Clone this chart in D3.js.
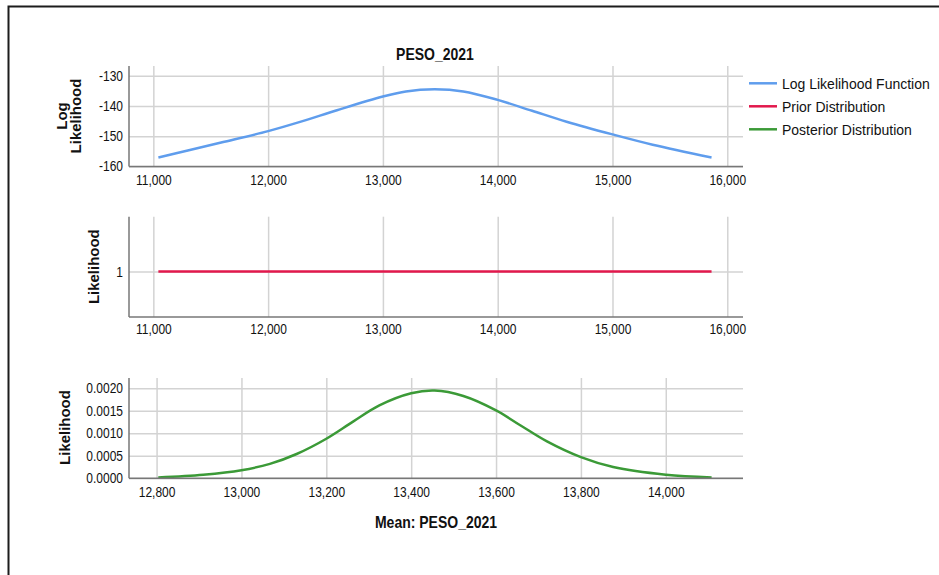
<!DOCTYPE html>
<html>
<head>
<meta charset="utf-8">
<script src="https://cdn.jsdelivr.net/npm/d3@7"></script>
<style>
  body { margin: 0; background: #fff; }
  svg { display: block; font-family: "Liberation Sans", Arial, sans-serif; }
</style>
</head>
<body>
<div id="chart"></div>
<script>
// values
const chartTitle = "PESO_2021";
const xTitle = "Mean: PESO_2021";

// log likelihood (blue)
const llMean = [11044, 11300, 11600, 12000, 12300, 12600, 13000, 13200, 13450, 13700, 14000, 14300, 14600, 15000, 15350, 15863];
const llValue = [-157.0, -154.7, -152.0, -148.3, -145.0, -141.4, -136.9, -135.2, -134.5, -135.2, -138.0, -141.6, -145.2, -149.4, -152.8, -157.0];

// prior (red), flat
const priorMean = [11044, 15863];
const priorValue = [1, 1];

// posterior (green)
const postMean = [12804, 12910, 13000, 13067, 13130, 13200, 13263, 13325, 13400, 13455, 13523, 13600, 13657, 13720, 13800, 13876, 14000, 14108];
const postValue = [0.00002, 0.00008, 0.00018, 0.00032, 0.00054, 0.00088, 0.00126, 0.00162, 0.00189, 0.00195, 0.00183, 0.00151, 0.00118, 0.00082, 0.00047, 0.00025, 0.00008, 0.00002];

const topXTicks = [11000, 12000, 13000, 14000, 15000, 16000];
const llTicks = [-160, -150, -140, -130];
const priorTicks = [1];
const postXTicks = [12800, 13000, 13200, 13400, 13600, 13800, 14000];
const postTicks = [0, 0.0005, 0.001, 0.0015, 0.002];

const seriesNames = ["Log Likelihood Function", "Prior Distribution", "Posterior Distribution"];
const seriesColors = ["#5f9ded", "#e2184c", "#3b9a37"];

const W = 939, H = 575;
const svg = d3.select("#chart").append("svg").attr("width", W).attr("height", H);

// frame
svg.append("rect")
    .attr("x", 8.5).attr("y", 6.5)
    .attr("width", W + 20).attr("height", H + 20)
    .attr("fill", "none").attr("stroke", "#1c1c1c").attr("stroke-width", 2);

const left = 129, right = 743;
const tickStretch = "scale(1,1.15)";   // the screenshot text is a bit taller than wide

// one panel: grid, axes, line
function panel(opts) {
    const x = d3.scaleLinear().domain(opts.xDomain).range([left, right]);
    const y = d3.scaleLinear().domain(opts.yDomain).range([opts.bottom, opts.top]);
    const g = svg.append("g");

    const yAxis = g.append("g")
        .attr("transform", "translate(" + left + ",0)")
        .call(d3.axisLeft(y).tickValues(opts.yTicks).tickFormat(opts.yFormat)
            .tickSize(-(right - left)).tickSizeOuter(0).tickPadding(6));
    yAxis.select(".domain").remove();
    yAxis.selectAll(".tick line").attr("stroke", "#d3d3d3").attr("stroke-width", 1.5);
    yAxis.selectAll(".tick text").attr("fill", "#111").style("font-size", "12px")
        .attr("transform", tickStretch);

    const xAxis = g.append("g")
        .attr("transform", "translate(0," + opts.bottom + ")")
        .call(d3.axisBottom(x).tickValues(opts.xTicks).tickFormat(d3.format(","))
            .tickSize(-(opts.bottom - opts.top)).tickSizeOuter(0).tickPadding(opts.pad));
    xAxis.select(".domain").remove();
    xAxis.selectAll(".tick line").attr("stroke", "#d3d3d3").attr("stroke-width", 1.5);
    xAxis.selectAll(".tick text").attr("fill", "#111").style("font-size", "12px")
        .attr("transform", tickStretch);

    const line = d3.line()
        .x((d, i) => x(opts.xs[i]))
        .y(d => y(d))
        .curve(d3.curveCatmullRom.alpha(0.5));
    g.append("path")
        .datum(opts.ys)
        .attr("d", line)
        .attr("fill", "none")
        .attr("stroke", opts.color)
        .attr("stroke-width", 2.5);

    // axis lines
    g.append("line")
        .attr("x1", left).attr("x2", right)
        .attr("y1", opts.bottom).attr("y2", opts.bottom)
        .attr("stroke", "#777").attr("stroke-width", 1.5);
    g.append("line")
        .attr("x1", left).attr("x2", left)
        .attr("y1", opts.top).attr("y2", opts.bottom)
        .attr("stroke", "#777").attr("stroke-width", 1.5);
}

const intFormat = d => String(d);   // plain hyphen minus like the original

panel({
    xDomain: [10788, 16137], yDomain: [-160, -126.8],
    top: 66, bottom: 166.5, pad: 7.5,
    xTicks: topXTicks, yTicks: llTicks, yFormat: intFormat,
    xs: llMean, ys: llValue, color: seriesColors[0]
});
panel({
    xDomain: [10788, 16137], yDomain: [0, 2.21],
    top: 216.7, bottom: 317, pad: 6.5,
    xTicks: topXTicks, yTicks: priorTicks, yFormat: intFormat,
    xs: priorMean, ys: priorValue, color: seriesColors[1]
});
panel({
    xDomain: [12735, 14182], yDomain: [0, 0.00223],
    top: 378, bottom: 478.3, pad: 7.5,
    xTicks: postXTicks, yTicks: postTicks, yFormat: d3.format(".4f"),
    xs: postMean, ys: postValue, color: seriesColors[2]
});

// titles
svg.append("text")
    .attr("transform", "translate(435,59.5) scale(1,1.2)")
    .attr("text-anchor", "middle")
    .style("font-size", "14px").style("font-weight", "bold").attr("fill", "#111")
    .text(chartTitle);

svg.append("text")
    .attr("transform", "translate(436,528) scale(1,1.2)")
    .attr("text-anchor", "middle")
    .style("font-size", "14px").style("font-weight", "bold").attr("fill", "#111")
    .text(xTitle);

const yLabels = [
    { t: "Log", x: 67, y: 116 },
    { t: "Likelihood", x: 81, y: 116 },
    { t: "Likelihood", x: 99, y: 266.7 },
    { t: "Likelihood", x: 69.5, y: 427.5 }
];
svg.selectAll(".ylab")
    .data(yLabels)
    .enter().append("text")
    .attr("class", "ylab")
    .attr("transform", d => "translate(" + d.x + "," + d.y + ") rotate(-90) scale(1.07,1)")
    .attr("text-anchor", "middle")
    .style("font-size", "14px").style("font-weight", "bold").attr("fill", "#111")
    .text(d => d.t);

// legend
const legend = svg.append("g").attr("transform", "translate(749,83.3)");
seriesNames.forEach((name, i) => {
    legend.append("line")
        .attr("x1", 0).attr("x2", 28)
        .attr("y1", i * 23).attr("y2", i * 23)
        .attr("stroke", seriesColors[i]).attr("stroke-width", 2.5);
    legend.append("text")
        .attr("transform", "translate(33," + (i * 23 + 5.5) + ") scale(1,1.1)")
        .style("font-size", "14px").attr("fill", "#111")
        .text(name);
});
</script>
</body>
</html>
